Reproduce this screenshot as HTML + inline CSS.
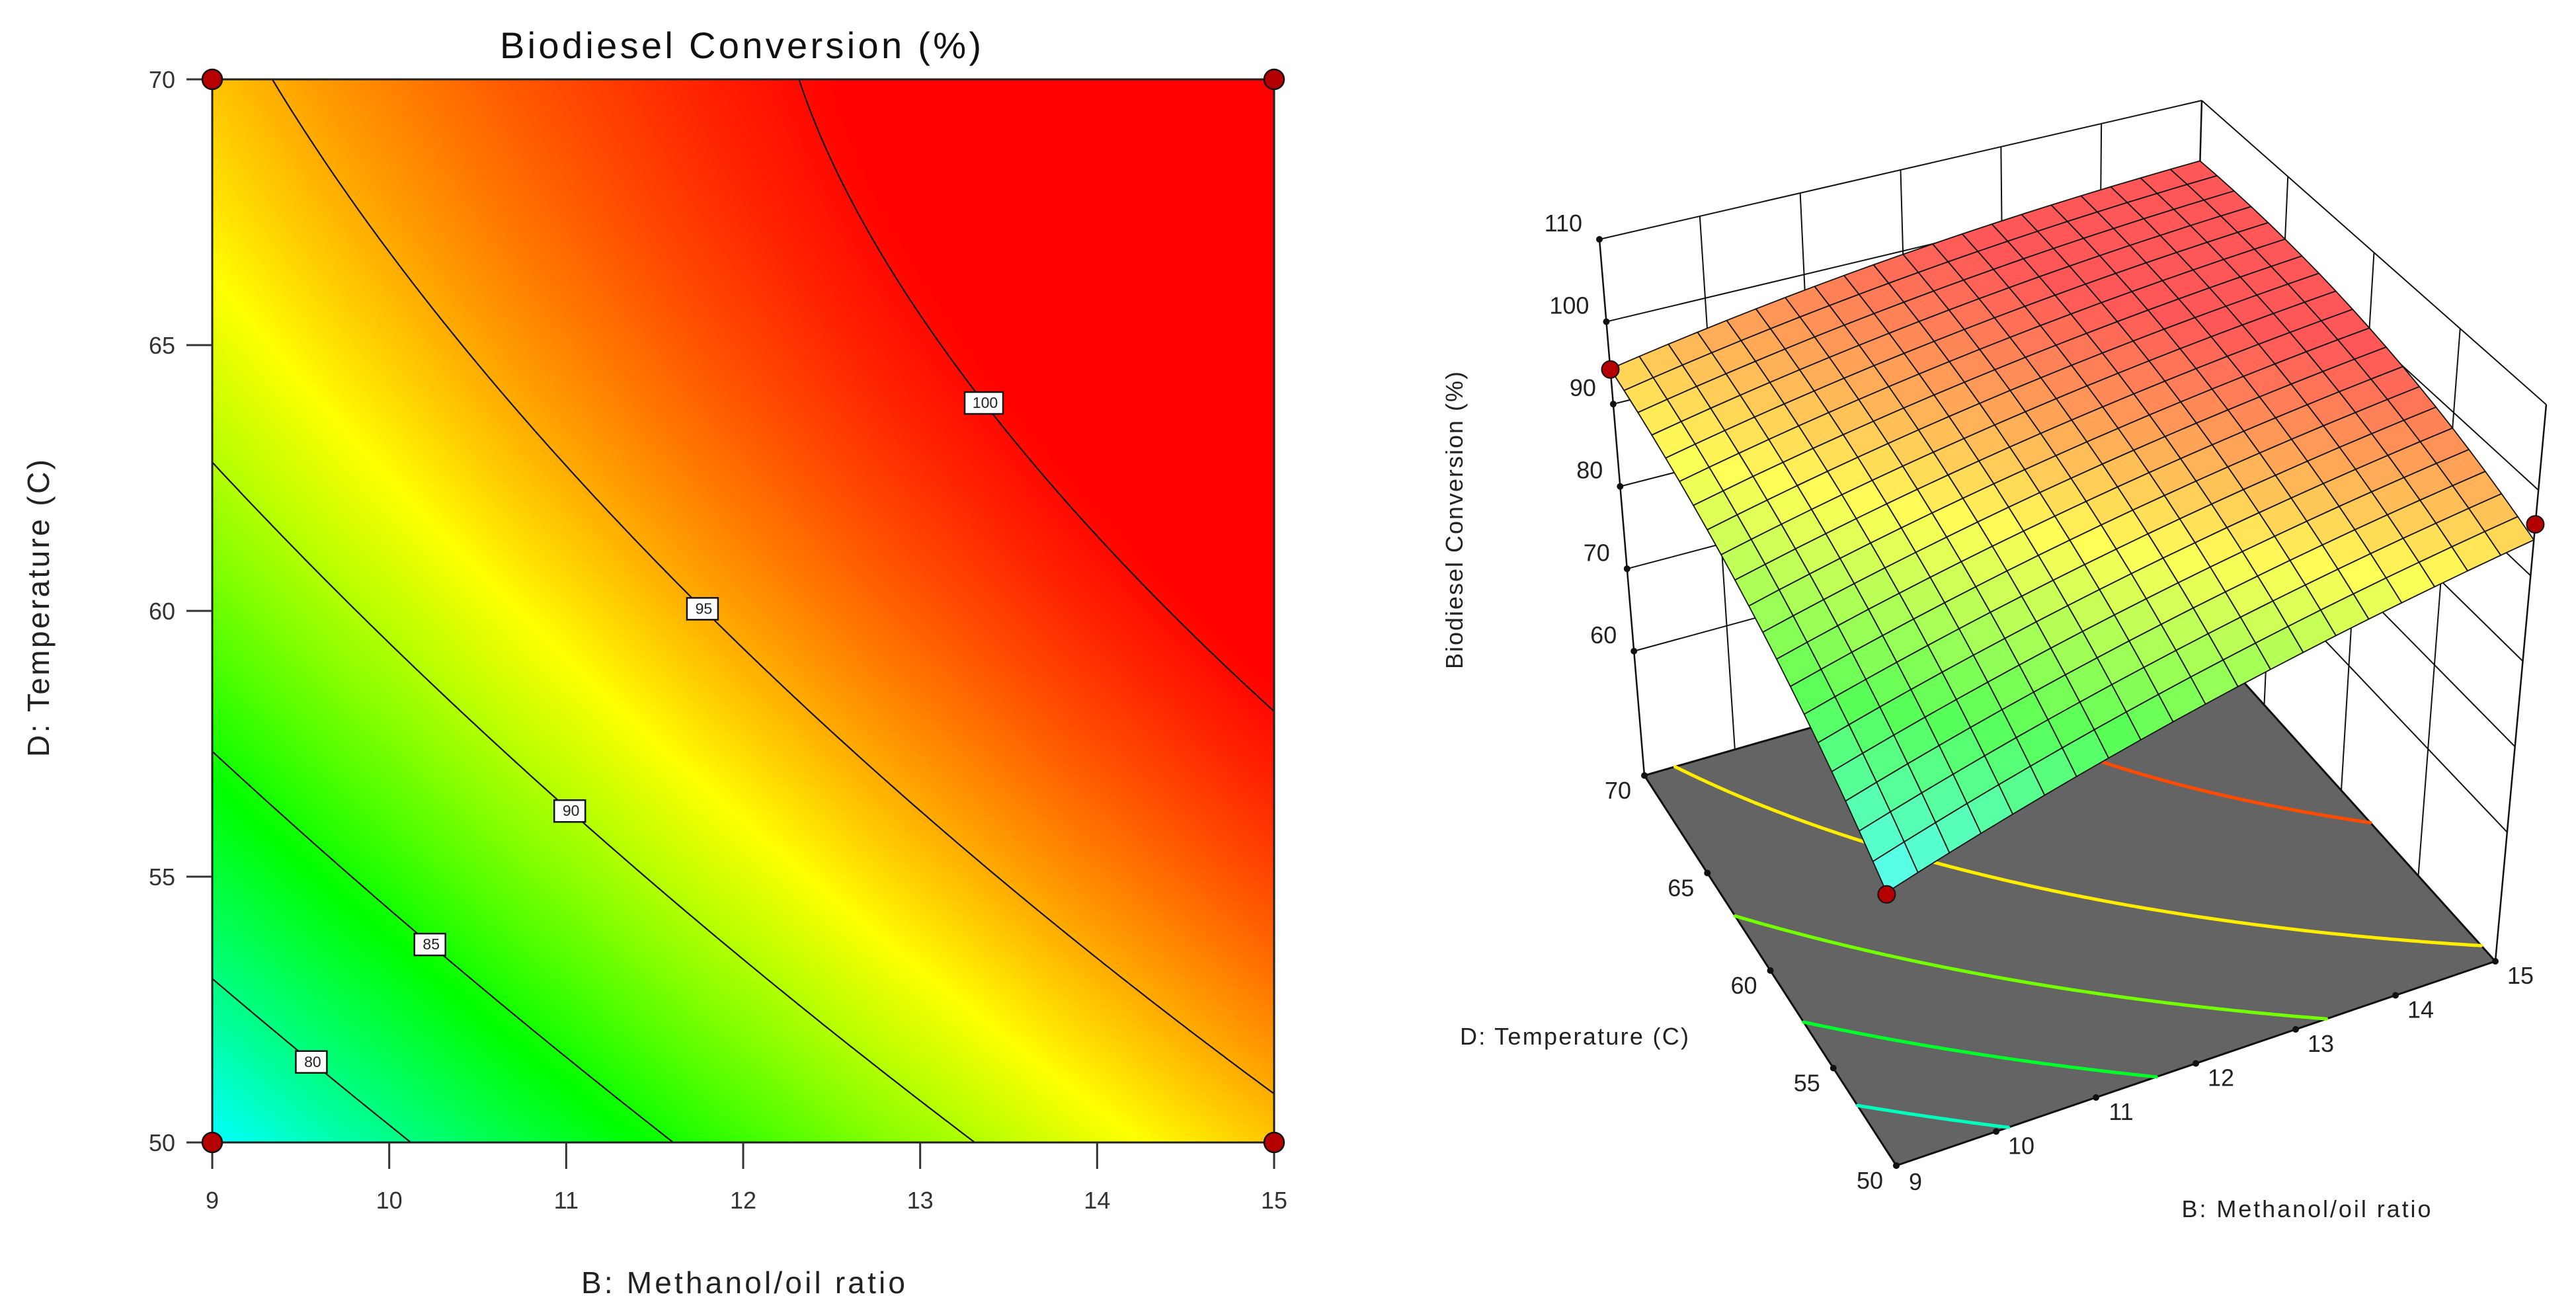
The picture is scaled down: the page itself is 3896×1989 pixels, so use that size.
<!DOCTYPE html>
<html><head><meta charset="utf-8">
<style>
html,body{margin:0;padding:0;background:#fff;}
#wrap{position:relative;width:3896px;height:1989px;overflow:hidden;background:#fff;}
#heat{position:absolute;left:321px;top:120px;width:1606px;height:1608px;}
#chart{position:absolute;left:0;top:0;}
text{font-family:"Liberation Sans",sans-serif;}
</style></head>
<body>
<div id="wrap">
<canvas id="heat" width="1606" height="1608"></canvas>
<svg id="chart" width="3896" height="1989" viewBox="0 0 3896 1989" xmlns="http://www.w3.org/2000/svg">
<text x="1120" y="88" font-size="56" text-anchor="middle" fill="#111" textLength="728">Biodiesel Conversion (%)</text>
<text x="1124" y="1956" font-size="46" text-anchor="middle" fill="#222" textLength="490">B: Methanol/oil ratio</text>
<text x="0" y="0" font-size="46" text-anchor="middle" fill="#222" textLength="450" transform="translate(74,920) rotate(-90)">D: Temperature (C)</text>
<text x="0" y="0" font-size="36" text-anchor="middle" fill="#222" textLength="450" transform="translate(2212,787) rotate(-90)">Biodiesel Conversion (%)</text>
<text x="2381" y="1580" font-size="36" text-anchor="middle" fill="#222" textLength="346">D: Temperature (C)</text>
<text x="3488" y="1841" font-size="36" text-anchor="middle" fill="#222" textLength="377">B: Methanol/oil ratio</text>
</svg>
</div>
<script>
// ---- data ----
const bVals=[9,10,11,12,13,14,15];
const dVals=[50,55,60,65,70];
const conv50=[75.8,79.6,83.0,86.2,89.1,91.7,94.4];
const conv55=[82.4,85.7,88.7,91.5,94.0,96.2,98.1];
const conv60=[87.6,90.5,93.2,95.5,97.6,99.3,100.8];
const conv65=[91.6,94.1,96.3,98.2,99.8,101.2,102.3];
const conv70=[94.2,96.3,98.1,99.6,100.8,101.8,102.4];
const contourLevels=[80,85,90,95,100];
const labelB=[9.56,10.23,11.02,11.77,13.36];
const xTicks=[9,10,11,12,13,14,15];
const yTicks=[50,55,60,65,70];
const zTicks=[60,70,80,90,100,110];
const designB=[9,9,15,15];
const designD=[50,70,50,70];
const designY=[75.6,94.2,96.0,100.0];

const grid=[conv50,conv55,conv60,conv65,conv70];
const svg=document.getElementById('chart');
const NS='http://www.w3.org/2000/svg';
function mk(tag,attrs){const e=document.createElementNS(NS,tag);for(const k in attrs)e.setAttribute(k,attrs[k]);svg.appendChild(e);return e;}
const B0=bVals[0],B1=bVals[bVals.length-1],D0=dVals[0],D1=dVals[dVals.length-1];
const Bm=(B0+B1)/2,Bh=(B1-B0)/2,Dm=(D0+D1)/2,Dh=(D1-D0)/2;
function feats(B,D){const x=(B-Bm)/Bh,y=(D-Dm)/Dh;return [1,x,y,x*y,x*x,y*y];}
// least-squares quadratic response surface fitted to the grid data
const coef=(function(){
  const A=[...Array(6)].map(()=>Array(7).fill(0));
  dVals.forEach((d,j)=>bVals.forEach((b,i)=>{const f=feats(b,d),z=grid[j][i];
    for(let r=0;r<6;r++){for(let c=0;c<6;c++)A[r][c]+=f[r]*f[c];A[r][6]+=f[r]*z;}}));
  for(let c=0;c<6;c++){let p=c;for(let r=c+1;r<6;r++)if(Math.abs(A[r][c])>Math.abs(A[p][c]))p=r;
    [A[c],A[p]]=[A[p],A[c]];
    for(let r=0;r<6;r++)if(r!==c){const m=A[r][c]/A[c][c];for(let k=c;k<7;k++)A[r][k]-=m*A[c][k];}}
  return A.map((row,r)=>row[6]/row[r]);
})();
function val(B,D){const f=feats(B,D);let s=0;for(let k=0;k<6;k++)s+=coef[k]*f[k];return s;}
let vMin=Infinity;grid.forEach(r=>r.forEach(v=>{if(v<vMin)vMin=v;}));
const vMax=100.3;
const stops=[[0,[0,255,255]],[0.35,[0,255,0]],[0.68,[255,255,0]],[1,[255,0,0]]];
function col(v){
  let t=(v-vMin)/(vMax-vMin);t=Math.max(0,Math.min(1,t));
  for(let k=0;k<stops.length-1;k++){const [t0,c0]=stops[k],[t1,c1]=stops[k+1];
    if(t<=t1){const f=(t-t0)/(t1-t0);return c0.map((c,m)=>Math.round(c+(c1[m]-c)*f));}}
  return stops[stops.length-1][1];
}
function rgb(c){return 'rgb('+c[0]+','+c[1]+','+c[2]+')';}

// ---- left contour plot ----
const X0=321,X1=1927,Y0=120,Y1=1728;
function sx(B){return X0+(B-B0)/(B1-B0)*(X1-X0);}
function sy(D){return Y1-(D-D0)/(D1-D0)*(Y1-Y0);}
(function(){
  const cv=document.getElementById('heat'),ctx=cv.getContext('2d');
  const W=cv.width,H=cv.height,img=ctx.createImageData(W,H);
  for(let py=0;py<H;py++){const D=D1-(py+0.5)/H*(D1-D0);
    for(let px=0;px<W;px++){const B=B0+(px+0.5)/W*(B1-B0);const c=col(val(B,D));const o=(py*W+px)*4;
      img.data[o]=c[0];img.data[o+1]=c[1];img.data[o+2]=c[2];img.data[o+3]=255;}}
  ctx.putImageData(img,0,0);
})();
function contourSegs(level,nx,ny){
  const segs=[];
  for(let i=0;i<nx;i++)for(let j=0;j<ny;j++){
    const b0=B0+(B1-B0)*i/nx,b1=B0+(B1-B0)*(i+1)/nx,d0=D0+(D1-D0)*j/ny,d1=D0+(D1-D0)*(j+1)/ny;
    const P=[[b0,d0],[b1,d0],[b1,d1],[b0,d1]];const V=P.map(p=>val(p[0],p[1])-level);
    const pts=[];
    for(let k=0;k<4;k++){const a=V[k],b=V[(k+1)%4];
      if((a<0)!==(b<0)){const f=a/(a-b);const p=P[k],q=P[(k+1)%4];pts.push([p[0]+(q[0]-p[0])*f,p[1]+(q[1]-p[1])*f]);}}
    if(pts.length>=2)segs.push([pts[0],pts[1]]);
    if(pts.length===4)segs.push([pts[2],pts[3]]);
  }
  return segs;
}
contourLevels.forEach((lv,li)=>{
  const segs=contourSegs(lv,160,160);
  const d=segs.map(s=>'M'+sx(s[0][0]).toFixed(1)+' '+sy(s[0][1]).toFixed(1)+'L'+sx(s[1][0]).toFixed(1)+' '+sy(s[1][1]).toFixed(1)).join('');
  const p=mk('path',{d:d,stroke:'#111','stroke-width':2.2,fill:'none'});
  
  
});
contourLevels.forEach((lv,li)=>{
  const B=labelB[li];let lo=D0,hi=D1;
  for(let k=0;k<40;k++){const m=(lo+hi)/2;if(val(B,m)<lv)lo=m;else hi=m;}
  const cx=sx(B),cy=sy((lo+hi)/2);const w=String(lv).length>2?58:47;
  const r=mk('rect',{x:cx-w/2,y:cy-16,width:w,height:33,fill:'#fff',stroke:'#111','stroke-width':2.5});
  
  
  const t=mk('text',{x:cx+2,y:cy+8,'font-size':23,'text-anchor':'middle',fill:'#222'});t.textContent=lv;
  
  
});
{const fr=mk('rect',{x:X0,y:Y0,width:X1-X0,height:Y1-Y0,fill:'none',stroke:'#222','stroke-width':3});

}
xTicks.forEach(v=>{
  const l=mk('line',{x1:sx(v),x2:sx(v),y1:Y1,y2:Y1+40,stroke:'#333','stroke-width':3});
  
  
  const t=mk('text',{x:sx(v),y:Y1+100,'font-size':36,'text-anchor':'middle',fill:'#333'});t.textContent=v;
  
  
});
yTicks.forEach(v=>{
  const l=mk('line',{x1:X0-39,x2:X0,y1:sy(v),y2:sy(v),stroke:'#333','stroke-width':3});
  
  
  const t=mk('text',{x:X0-56,y:sy(v)+13,'font-size':36,'text-anchor':'end',fill:'#333'});t.textContent=v;
  
  
});
designB.forEach((b,k)=>{
  const c=mk('circle',{cx:sx(b),cy:sy(designD[k]),r:15,fill:'#b40000',stroke:'#111','stroke-width':2.5});
  
  
});

// ---- 3D surface plot ----
const zFloor=44.9,zTop=110;
const FL={a:[2868,1763],b:[3774,1454],c:[2487,1173],d:[3308,937]};
const TP={a:[2837,893],b:[3851,612],c:[2419,362],d:[3330,152]};
function bil(Q,u,v){return [0,1].map(m=>Q.a[m]*(1-u)*(1-v)+Q.b[m]*u*(1-v)+Q.c[m]*(1-u)*v+Q.d[m]*u*v);}
function uOf(B){return (B-B0)/(B1-B0);}function vOf(D){return (D-D0)/(D1-D0);}
function P3(B,D,z){const u=uOf(B),v=vOf(D),w=(z-zFloor)/(zTop-zFloor);const f=bil(FL,u,v),t=bil(TP,u,v);return [f[0]+(t[0]-f[0])*w,f[1]+(t[1]-f[1])*w];}
function ln(p,q,name,w,c){const l=mk('line',{x1:p[0],y1:p[1],x2:q[0],y2:q[1],stroke:c||'#111','stroke-width':w||2});return l;}
zTicks.forEach(z=>{ln(P3(B0,D1,z),P3(B1,D1,z),'back-wall-gridline-'+z,2);ln(P3(B1,D0,z),P3(B1,D1,z),'right-wall-gridline-'+z,2);});
xTicks.forEach(b=>{if(b>B0&&b<B1)ln(P3(b,D1,zFloor),P3(b,D1,zTop),'back-wall-vertical-'+b,2);});
yTicks.forEach(d=>{if(d>D0&&d<D1)ln(P3(B1,d,zFloor),P3(B1,d,zTop),'right-wall-vertical-'+d,2);});
ln(P3(B0,D1,zFloor),P3(B0,D1,zTop),'z-axis-edge',2.5);
ln(P3(B1,D1,zFloor),P3(B1,D1,zTop),'back-corner-edge',2.5);
ln(P3(B1,D0,zFloor),P3(B1,D0,zTop),'right-corner-edge',2.5);
{const f=[P3(B0,D0,zFloor),P3(B1,D0,zFloor),P3(B1,D1,zFloor),P3(B0,D1,zFloor)];
const fl=mk('polygon',{points:f.map(p=>p.join(',')).join(' '),fill:'#646464',stroke:'#111','stroke-width':3});

}
contourLevels.forEach(lv=>{
  const segs=contourSegs(lv,120,120);
  const d=segs.map(s=>{const p=P3(s[0][0],s[0][1],zFloor),q=P3(s[1][0],s[1][1],zFloor);return 'M'+p[0].toFixed(1)+' '+p[1].toFixed(1)+'L'+q[0].toFixed(1)+' '+q[1].toFixed(1);}).join('');
  const p=mk('path',{d:d,stroke:rgb(col(lv-2)),'stroke-width':5,fill:'none','stroke-linecap':'round'});
  
  
});
yTicks.forEach(d=>{const p=P3(B0,d,zFloor);
  const c=mk('circle',{cx:p[0],cy:p[1],r:5,fill:'#111'});
  const t=mk('text',{x:p[0]-40,y:p[1]+35,'font-size':36,'text-anchor':'middle',fill:'#222'});t.textContent=d;
  });
xTicks.forEach(b=>{const p=P3(b,D0,zFloor);
  const c=mk('circle',{cx:p[0],cy:p[1],r:5,fill:'#111'});
  const t=mk('text',{x:p[0]+(b===B0?29:38),y:p[1]+(b===B0?37:34),'font-size':36,'text-anchor':'middle',fill:'#222'});t.textContent=b;
  });
zTicks.forEach(z=>{const p=P3(B0,D1,z);
  const c=mk('circle',{cx:p[0],cy:p[1],r:5,fill:'#111'});
  const t=mk('text',{x:p[0]-26,y:p[1]-12,'font-size':36,'text-anchor':'end',fill:'#222'});t.textContent=z;
  });
function dp(k){const p=P3(designB[k],designD[k],designY[k]);const c=mk('circle',{cx:p[0],cy:p[1],r:13,fill:'#b40000',stroke:'#111','stroke-width':2});
  }
designB.forEach((b,k)=>{if(designY[k]<val(b,designD[k])-1)dp(k);});
const N=20;const cells=[];
for(let i=0;i<N;i++)for(let j=0;j<N;j++)cells.push([i,j]);
cells.sort((a,b)=>(b[0]+b[1])-(a[0]+a[1]));
cells.forEach(([i,j])=>{
  const b0=B0+(B1-B0)*i/N,b1=B0+(B1-B0)*(i+1)/N,d0=D0+(D1-D0)*j/N,d1=D0+(D1-D0)*(j+1)/N;
  const corners=[[b0,d0],[b1,d0],[b1,d1],[b0,d1]];
  const pts=corners.map(c=>P3(c[0],c[1],val(c[0],c[1])));
  const c=col(val((b0+b1)/2,(d0+d1)/2)).map(x=>Math.round(x*0.66+255*0.34));
  const pg=mk('polygon',{points:pts.map(p=>p[0].toFixed(1)+','+p[1].toFixed(1)).join(' '),fill:rgb(c),stroke:'#151515','stroke-width':1.8,'stroke-linejoin':'round'});
  
  
});
designB.forEach((b,k)=>{if(!(designY[k]<val(b,designD[k])-1))dp(k);});
</script>
</body></html>
